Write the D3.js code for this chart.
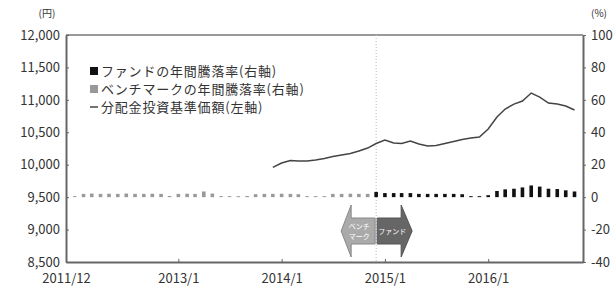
<!DOCTYPE html>
<html>
<head>
<meta charset="utf-8">
<script src="https://cdn.jsdelivr.net/npm/d3@7"></script>
<style>
  body { margin: 0; background: #fff; }
  svg text { font-family: "Noto Sans CJK JP", "Noto Sans", sans-serif; fill: #333; }
  .axis path, .axis line { stroke: #666; }
</style>
</head>
<body>
<div id="chart"></div>
<script>
// chart data
const barStart = '2012-01';   // first bar month
const benchmarkReturn = [0.6, 2.0, 2.2, 2.0, 2.1, 2.0, 2.2, 2.0, 2.0, 2.1, 2.0,
  0.7, 2.0, 2.1, 2.0, 3.5, 2.2, 0.6, 0.6, 0.6, 0.7, 1.8, 2.0, 2.0, 2.1, 2.0, 1.8,
  0.6, 0.6, 0.6, 2.0, 2.0, 2.1, 2.0, 2.0];
const fundReturn = [3.2, 2.5, 2.5, 2.5, 2.5, 2.0, 2.0, 2.0, 2.0, 2.0, 1.8, 0.6,
  0.6, 1.2, 3.8, 4.8, 5.2, 6.0, 7.2, 6.5, 5.2, 5.0, 4.2, 3.5];
const navStart = '2013-12';
const navValues = [9960, 10026, 10064, 10057, 10057, 10072, 10095, 10126, 10150,
  10172, 10211, 10257, 10327, 10380, 10334, 10327, 10365, 10319, 10288, 10296,
  10327, 10357, 10388, 10411, 10427, 10550, 10735, 10858, 10935, 10982, 11105,
  11043, 10951, 10935, 10904, 10843];
const xTickLabels = ['2011/12', '2013/1', '2014/1', '2015/1', '2016/1'];
const leftTicks = [8500, 9000, 9500, 10000, 10500, 11000, 11500, 12000];
const rightTicks = [-40, -20, 0, 20, 40, 60, 80, 100];
const legendLabels = ['ファンドの年間騰落率(右軸)', 'ベンチマークの年間騰落率(右軸)', '分配金投資基準価額(左軸)'];
const dividerMonth = '2014-12';

const W = 616, H = 289;
const plot = {left: 66, right: 583, top: 35, bottom: 262};
const parseM = d3.timeParse('%Y-%m');
const parseTick = d3.timeParse('%Y/%m');

const svg = d3.select('#chart').append('svg')
  .attr('width', W).attr('height', H);

// scales
const x = d3.scaleTime()
  .domain([parseM('2011-12'), parseM('2016-12')])
  .range([plot.left, plot.right]);
const yL = d3.scaleLinear().domain([8500, 12000]).range([plot.bottom, plot.top]);
const yR = d3.scaleLinear().domain([-40, 100]).range([plot.bottom, plot.top]);

// build bar table
const bars = [];
const b0 = parseM(barStart);
benchmarkReturn.forEach((v, i) => bars.push({date: d3.timeMonth.offset(b0, i), value: v, kind: 'bm'}));
fundReturn.forEach((v, i) => bars.push({date: d3.timeMonth.offset(b0, benchmarkReturn.length + i), value: v, kind: 'fund'}));
const n0 = parseM(navStart);
const nav = navValues.map((v, i) => ({date: d3.timeMonth.offset(n0, i), value: v}));

// frame top
svg.append('line')
  .attr('x1', plot.left).attr('x2', plot.right)
  .attr('y1', plot.top).attr('y2', plot.top)
  .attr('stroke', '#999').attr('stroke-width', 2);

// divider
svg.append('line')
  .attr('x1', x(parseM(dividerMonth))).attr('x2', x(parseM(dividerMonth)))
  .attr('y1', plot.top).attr('y2', plot.bottom)
  .attr('stroke', '#bbb').attr('stroke-width', 1)
  .attr('stroke-dasharray', '1,2');

// bars
const bw = 3.6;
svg.append('g').selectAll('rect').data(bars).join('rect')
  .attr('x', d => x(d.date) - bw / 2)
  .attr('y', d => yR(d.value))
  .attr('width', bw)
  .attr('height', d => yR(0) - yR(d.value))
  .attr('fill', d => d.kind === 'bm' ? '#999' : '#111');

// nav line
svg.append('path').datum(nav)
  .attr('fill', 'none')
  .attr('stroke', '#444')
  .attr('stroke-width', 1.5)
  .attr('d', d3.line().x(d => x(d.date)).y(d => yL(d.value)));

// axes
const leftAxis = svg.append('g').attr('class', 'axis')
  .attr('transform', `translate(${plot.left},0)`)
  .call(d3.axisLeft(yL).tickValues(leftTicks).tickFormat(d3.format(','))
    .tickSizeInner(-3).tickSizeOuter(0).tickPadding(6));
const rightAxis = svg.append('g').attr('class', 'axis')
  .attr('transform', `translate(${plot.right},0)`)
  .call(d3.axisRight(yR).tickValues(rightTicks).tickFormat(d => String(d))
    .tickSizeInner(3).tickSizeOuter(0).tickPadding(5));
const bottomAxis = svg.append('g').attr('class', 'axis')
  .attr('transform', `translate(0,${plot.bottom})`)
  .call(d3.axisBottom(x).tickValues(xTickLabels.map(parseTick))
    .tickFormat(d3.timeFormat('%Y/%-m'))
    .tickSizeInner(-3).tickSizeOuter(0).tickPadding(12));

svg.selectAll('.axis text').attr('font-size', 13).attr('fill', '#333');
svg.selectAll('.axis .domain').attr('stroke-width', 2);
leftAxis.select('.domain').attr('stroke', '#555');
bottomAxis.select('.domain').attr('stroke', '#555');
rightAxis.select('.domain').attr('stroke', '#888');
svg.selectAll('.axis .tick line').attr('stroke', '#aaa');

// unit labels
svg.append('text').attr('x', 47).attr('y', 17).attr('text-anchor', 'middle')
  .attr('font-size', 10).text('(円)');
svg.append('text').attr('x', 599).attr('y', 17).attr('text-anchor', 'middle')
  .attr('font-size', 10).text('(%)');

// legend
const lg = svg.append('g').attr('transform', 'translate(90,0)');
const legendY = [71, 89, 107];
lg.append('rect').attr('x', 0).attr('y', legendY[0] - 4).attr('width', 8).attr('height', 8).attr('fill', '#111');
lg.append('rect').attr('x', 0).attr('y', legendY[1] - 4).attr('width', 8).attr('height', 8).attr('fill', '#999');
lg.append('line').attr('x1', 0).attr('x2', 8).attr('y1', legendY[2]).attr('y2', legendY[2])
  .attr('stroke', '#444').attr('stroke-width', 1.5);
lg.selectAll('text.lg').data(legendLabels).join('text')
  .attr('class', 'lg')
  .attr('x', 11)
  .attr('y', (d, i) => legendY[i])
  .attr('dy', '0.35em')
  .attr('font-size', 13)
  .attr('letter-spacing', 0.8)
  .text(d => d);

// direction arrows
const xd = x(parseM(dividerMonth));
const ay = 231;
const leftArrow = [[xd - 1, ay - 13], [xd - 25, ay - 13], [xd - 25, ay - 26], [xd - 35, ay],
  [xd - 25, ay + 26], [xd - 25, ay + 13], [xd - 1, ay + 13]];
const rightArrow = [[xd + 1, ay - 13], [xd + 25, ay - 13], [xd + 25, ay - 26], [xd + 36, ay],
  [xd + 25, ay + 26], [xd + 25, ay + 13], [xd + 1, ay + 13]];
svg.append('polygon').attr('points', leftArrow.join(' ')).attr('fill', '#aaa').attr('stroke', '#888');
svg.append('polygon').attr('points', rightArrow.join(' ')).attr('fill', '#666').attr('stroke', '#555');
svg.append('text').attr('x', xd - 17).attr('y', ay - 2).attr('text-anchor', 'middle')
  .attr('font-size', 7).style('fill', '#fff').text('ベンチ');
svg.append('text').attr('x', xd - 17).attr('y', ay + 8).attr('text-anchor', 'middle')
  .attr('font-size', 7).style('fill', '#fff').text('マーク');
svg.append('text').attr('x', xd + 16).attr('y', ay + 3).attr('text-anchor', 'middle')
  .attr('font-size', 7).style('fill', '#fff').text('ファンド');
</script>
</body>
</html>
